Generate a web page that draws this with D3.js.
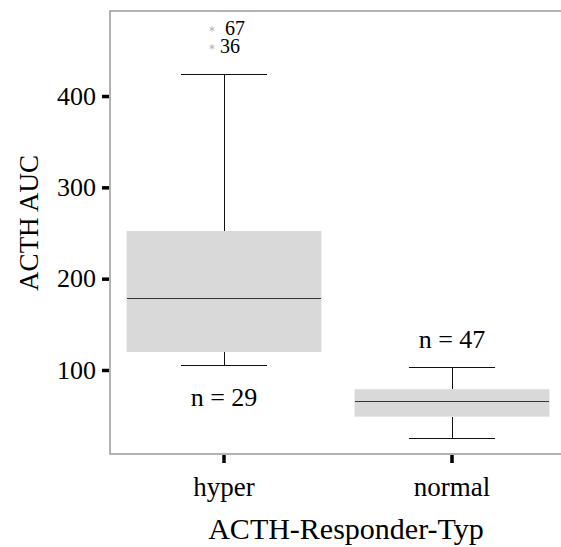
<!DOCTYPE html>
<html>
<head>
<meta charset="utf-8">
<script src="https://cdn.jsdelivr.net/npm/d3@7"></script>
<style>
	body { margin: 0; background: #fff; }
	text { font-family: "Liberation Serif", "Times New Roman", serif; fill: #000; }
</style>
</head>
<body>
<main></main>
<script>
	// 1. Data

	const groups = ["hyper", "normal"];
	const q1 = [119.7, 48.9];
	const medians = [178.1, 65.3];
	const q3 = [252.2, 78.9];
	const whiskerLow = [104.4, 24.8];
	const whiskerHigh = [424.1, 102.2];
	const counts = [29, 47];

	const outlierGroup = ["hyper", "hyper"];
	const outlierValue = [473.4, 453.7];
	const outlierLabel = ["67", "36"];

	const yTicks = [100, 200, 300, 400];

	// 2. Dimensions

	const width = 561;
	const height = 547;
	const panel = { left: 110, right: 566, top: 11, bottom: 454 };

	// 3. Canvas

	const svg = d3.select("main")
		.append("svg")
		.attr("width", width)
		.attr("height", height);

	// 4. Scales

	const xScale = d3.scaleBand()
		.domain(groups)
		.range([panel.left, panel.right])
		.padding(0);

	const yScale = d3.scaleLinear()
		.domain([8.0, 493.1])
		.range([panel.bottom, panel.top]);

	const cx = g => xScale(g) + xScale.bandwidth() / 2;
	const boxW = xScale.bandwidth() * 0.855;
	const capW = xScale.bandwidth() * 0.38;

	// 5. Boxes

	const boxes = groups.map((g, i) => ({
		g, q1: q1[i], med: medians[i], q3: q3[i],
		lo: whiskerLow[i], hi: whiskerHigh[i], n: counts[i]
	}));

	const bx = svg.append("g").selectAll("g")
		.data(boxes)
		.join("g");

	const seg = (sel, x1, x2, y1, y2, col) => sel.append("line")
		.attr("x1", x1).attr("x2", x2).attr("y1", y1).attr("y2", y2)
		.attr("stroke", col).attr("stroke-width", 1)
		.attr("shape-rendering", "crispEdges");

	seg(bx, d => cx(d.g), d => cx(d.g), d => yScale(d.hi), d => yScale(d.q3), "#111");
	seg(bx, d => cx(d.g), d => cx(d.g), d => yScale(d.q1), d => yScale(d.lo), "#111");
	seg(bx, d => cx(d.g) - capW / 2, d => cx(d.g) + capW / 2, d => yScale(d.hi), d => yScale(d.hi), "#111");
	seg(bx, d => cx(d.g) - capW / 2, d => cx(d.g) + capW / 2, d => yScale(d.lo), d => yScale(d.lo), "#111");

	bx.append("rect")
		.attr("x", d => cx(d.g) - boxW / 2)
		.attr("width", boxW)
		.attr("y", d => yScale(d.q3))
		.attr("height", d => yScale(d.q1) - yScale(d.q3))
		.attr("fill", "#d9d9d9");

	seg(bx, d => cx(d.g) - boxW / 2, d => cx(d.g) + boxW / 2, d => yScale(d.med), d => yScale(d.med), "#333");

	// n labels: below the box for hyper, above for normal
	bx.append("text")
		.attr("x", d => cx(d.g))
		.attr("y", (d, i) => i === 0 ? yScale(d.lo) + 40 : yScale(d.hi) - 20)
		.attr("text-anchor", "middle")
		.attr("font-size", 26)
		.text(d => `n = ${d.n}`);

	// outliers
	const outliers = outlierValue.map((v, i) => ({ g: outlierGroup[i], v, label: outlierLabel[i] }));
	const star = d3.symbol().type(d3.symbolAsterisk).size(22);

	svg.append("g").selectAll("path")
		.data(outliers)
		.join("path")
		.attr("d", star)
		.attr("transform", d => `translate(${cx(d.g) - 12},${yScale(d.v)})`)
		.attr("fill", "none")
		.attr("stroke", "#aaa")
		.attr("stroke-width", 0.8);

	svg.append("g").selectAll("text")
		.data(outliers)
		.join("text")
		.attr("x", (d, i) => cx(d.g) - 12 + (i === 0 ? 13 : 8))
		.attr("y", d => yScale(d.v) + 6)
		.attr("font-size", 20)
		.text(d => d.label);

	// 6. Panel border (left, top, bottom)

	svg.append("path")
		.attr("d", `M${width},${panel.top}H${panel.left}V${panel.bottom}H${width}`)
		.attr("fill", "none")
		.attr("stroke", "#999")
		.attr("stroke-width", 1.5);

	// 7. Axes

	const yAxis = svg.append("g")
		.attr("transform", `translate(${panel.left - 1},0)`)
		.call(d3.axisLeft(yScale).tickValues(yTicks).tickSize(7).tickPadding(6));
	yAxis.select(".domain").remove();
	yAxis.selectAll(".tick line").attr("stroke", "#000").attr("stroke-width", 3.5);
	yAxis.selectAll(".tick text")
		.attr("font-size", 26)
		.attr("fill", "#000");

	const xAxis = svg.append("g")
		.attr("transform", `translate(0,${panel.bottom + 1})`)
		.call(d3.axisBottom(xScale).tickSize(8).tickPadding(14));
	xAxis.select(".domain").remove();
	xAxis.selectAll(".tick line").attr("stroke", "#000").attr("stroke-width", 3.5);
	xAxis.selectAll(".tick text")
		.attr("font-size", 27)
		.attr("fill", "#000");

	svg.append("text")
		.attr("x", 346)
		.attr("y", 539)
		.attr("text-anchor", "middle")
		.attr("font-size", 30)
		.text("ACTH-Responder-Typ");

	svg.append("text")
		.attr("transform", "translate(38,223) rotate(-90)")
		.attr("text-anchor", "middle")
		.attr("font-size", 27)
		.text("ACTH AUC");
</script>
</body>
</html>
